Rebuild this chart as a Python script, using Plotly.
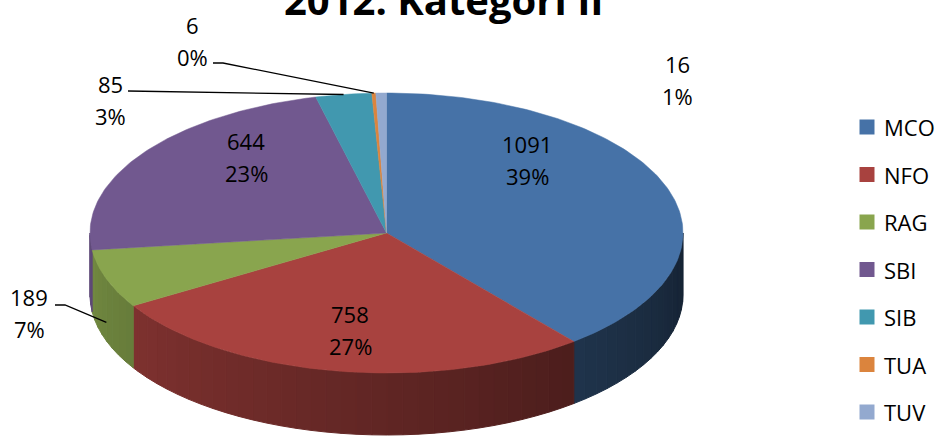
import math
import plotly.graph_objects as go

# chart data
categories = ["MCO", "NFO", "RAG", "SBI", "SIB", "TUA", "TUV"]
values = [1091, 758, 189, 644, 85, 6, 16]
colors = ["#4672A7", "#A8423F", "#89A54E", "#71588F", "#4198AF", "#DB843D", "#93A9CF"]
title_text = "2012: Kategori II"

# geometry of the tilted pie (pixel units, y grows downward)
CX, CY, RX, RY, DEPTH = 386.5, 233, 296.5, 140, 62

# where each data label sits (centre of the value line)
label_pos = {
    "MCO": (527, 144), "NFO": (350, 314), "RAG": (29, 297), "SBI": (246, 141),
    "SIB": (110, 84), "TUA": (192, 25), "TUV": (677, 64),
}
# leader lines start next to the label, end on the slice
leader_start = {
    "RAG": [(55, 305), (65, 305)],
    "SIB": [(128, 91)],
    "TUA": [(213, 63), (223, 63)],
}
FONT = "Open Sans, Noto Sans, sans-serif"


def rim(theta, drop=0.0):
    """Point on the top rim for an angle measured clockwise from 12 o'clock."""
    t = math.radians(theta)
    return CX + RX * math.sin(t), CY - RY * math.cos(t) + drop


def arc(t0, t1, drop=0.0):
    n = max(2, int(abs(t1 - t0)) + 2)
    pts = [rim(t0 + (t1 - t0) * i / (n - 1), drop) for i in range(n)]
    return [p[0] for p in pts], [p[1] for p in pts]


def shade(hex_color, f):
    r, g, b = (int(hex_color[i:i + 2], 16) for i in (1, 3, 5))
    return "rgb(%d,%d,%d)" % (r * f, g * f, b * f)


def slice_angles():
    total = sum(values)
    out, acc = [], 0
    for v in values:
        out.append((acc / total * 360, (acc + v) / total * 360))
        acc += v
    return out


def build_figure():
    fig = go.Figure()
    angles = slice_angles()
    total = sum(values)

    # side walls of the front half, drawn in thin strips for a lighting gradient
    for (t0, t1), col in zip(angles, colors):
        lo, hi = max(t0, 90), min(t1, 270)
        step = 3.0
        s = lo
        while s < hi:
            e = min(s + step, hi)
            xs, ys = arc(s, e)
            xb, yb = arc(e, s, DEPTH)
            f = 0.3 + 0.55 * ((s + e) / 2 - 90) / 180
            c = shade(col, f)
            fig.add_trace(go.Scatter(
                x=xs + xb + [xs[0]], y=ys + yb + [ys[0]], mode="lines",
                fill="toself", fillcolor=c, line=dict(color=c, width=1),
                hoverinfo="skip", showlegend=False))
            s = e

    # top face
    for (t0, t1), col, name, v in zip(angles, colors, categories, values):
        xs, ys = arc(t0, t1)
        fig.add_trace(go.Scatter(
            x=[CX] + xs + [CX], y=[CY] + ys + [CY], mode="lines",
            fill="toself", fillcolor=col, line=dict(color=col, width=0.5),
            name=name, hovertemplate=f"{name}: {v}<extra></extra>", showlegend=False))

    # data labels and leader lines
    for (t0, t1), name, v in zip(angles, categories, values):
        x, y = label_pos[name]
        pct = round(v / total * 100)
        for txt, dy in ((str(v), 0), (f"{pct}%", 32)):
            fig.add_annotation(x=x, y=y + dy, xref="x", yref="y", text=txt,
                               showarrow=False, xanchor="center", yanchor="middle",
                               font=dict(family=FONT, size=22, color="black"))
        if name in leader_start:
            mid = (t0 + t1) / 2
            end = rim(mid, DEPTH * 0.7 if 90 < mid < 270 else 0)
            pts = leader_start[name] + [end]
            fig.add_trace(go.Scatter(
                x=[p[0] for p in pts], y=[p[1] for p in pts], mode="lines",
                line=dict(color="black", width=1.3), hoverinfo="skip", showlegend=False))

    # legend drawn by hand so the spacing matches
    ly = [127 + 47.5 * i for i in range(len(categories))]
    fig.add_trace(go.Scatter(
        x=[867] * len(categories), y=ly, mode="markers",
        marker=dict(symbol="square", size=15, color=colors),
        hoverinfo="skip", showlegend=False))
    for name, y in zip(categories, ly):
        fig.add_annotation(x=882, y=y, xref="x", yref="y", text=name, showarrow=False,
                           xanchor="left", yanchor="middle",
                           font=dict(family=FONT, size=22, color="black"))

    fig.add_annotation(x=444, y=29, xref="x", yref="y", text=f"<b>{title_text}</b>",
                       showarrow=False, xanchor="center", yanchor="bottom",
                       font=dict(family=FONT, size=40, color="black"))

    fig.update_layout(
        width=941, height=441,
        margin=dict(l=0, r=0, t=0, b=0),
        paper_bgcolor="white", plot_bgcolor="white",
        xaxis=dict(range=[0, 941], visible=False, fixedrange=True),
        yaxis=dict(range=[441, 0], visible=False, fixedrange=True),
    )
    return fig


def main():
    fig = build_figure()
    # drop the default page margin so the chart fills the window
    fig.write_html("out.html", config={"displayModeBar": False},
                   post_script="document.body.style.margin = '0';")


if __name__ == "__main__":
    main()
